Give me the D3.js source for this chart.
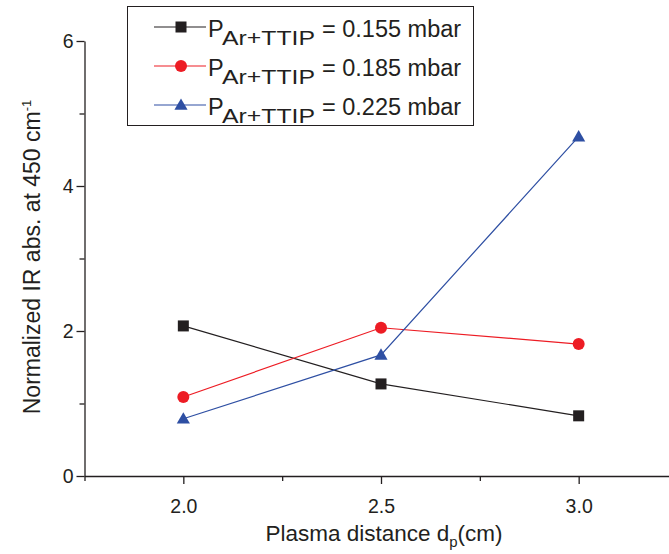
<!DOCTYPE html>
<html><head><meta charset="utf-8">
<script src="https://cdn.jsdelivr.net/npm/d3@7/dist/d3.min.js"></script>
<style>body{margin:0;background:#fff}svg{display:block;font-family:"Liberation Sans",Arial,sans-serif}</style>
</head><body><svg id="c" width="669" height="554"></svg>
<script>
const distances = [2.0, 2.5, 3.0];
const series155 = [2.07, 1.27, 0.83];
const series185 = [1.09, 2.045, 1.82];
const series225 = [0.79, 1.67, 4.68];
const seriesLabels = ["0.155", "0.185", "0.225"];
const xTicks = [2.0, 2.5, 3.0];
const yTicks = [0, 2, 4, 6];

const seriesList = [
  {values: series155, color: "#231f20", shape: "square", label: seriesLabels[0]},
  {values: series185, color: "#ed1c24", shape: "circle", label: seriesLabels[1]},
  {values: series225, color: "#2e4fa3", shape: "triangle", label: seriesLabels[2]}
];

const svg = d3.select("#c");
const x = d3.scaleLinear().domain([1.75, 3.25]).range([84.5, 677.5]);
const y = d3.scaleLinear().domain([0, 6]).range([476, 41]);
const axisCol = "#231f20";

// x axis
const gx = svg.append("g").attr("transform", "translate(0,476)");
gx.call(d3.axisBottom(x).tickValues(xTicks).tickFormat(d3.format(".1f")).tickSize(8).tickSizeOuter(0));
gx.append("g").call(d3.axisBottom(x).tickValues([1.75, 2.25, 2.75, 3.25]).tickFormat("").tickSize(5).tickSizeOuter(0))
  .select(".domain").remove();
gx.selectAll("text").attr("font-size", 19.5).attr("fill", axisCol).attr("dy", "1.35em").attr("font-family", "Liberation Sans, Arial, sans-serif");

// y axis
const gy = svg.append("g").attr("transform", "translate(84.5,0)");
gy.call(d3.axisLeft(y).tickValues(yTicks).tickFormat(d3.format("d")).tickSize(8).tickSizeOuter(0));
gy.append("g").call(d3.axisLeft(y).tickValues([1, 3, 5]).tickFormat("").tickSize(5).tickSizeOuter(0))
  .select(".domain").remove();
gy.selectAll("text").attr("font-size", 19.5).attr("fill", axisCol).attr("x", -11).attr("font-family", "Liberation Sans, Arial, sans-serif");
svg.selectAll(".domain, .tick line").attr("stroke", axisCol).attr("stroke-width", 1.3);

// titles
const xt = svg.append("text").attr("x", 384).attr("y", 541).attr("text-anchor", "middle")
  .attr("font-size", 22.5).attr("fill", axisCol);
xt.append("tspan").text("Plasma distance d");
xt.append("tspan").attr("font-size", 15).attr("dy", 6).text("p");
xt.append("tspan").attr("dy", -6).text("(cm)");

const yt = svg.append("text").attr("transform", "translate(40,257) rotate(-90)").attr("text-anchor", "middle")
  .attr("font-size", 23).attr("fill", axisCol);
yt.append("tspan").text("Normalized IR abs. at 450 cm");
yt.append("tspan").attr("font-size", 13).attr("dy", -9).text("-1");

function marker(g, shape, color, cx, cy) {
  if (shape === "square") g.append("rect").attr("x", cx - 5.5).attr("y", cy - 5.5).attr("width", 11).attr("height", 11).attr("fill", color);
  else if (shape === "circle") g.append("circle").attr("cx", cx).attr("cy", cy).attr("r", 6).attr("fill", color);
  else g.append("path").attr("d", d3.symbol().type(d3.symbolTriangle).size(75)()).attr("transform", `translate(${cx},${cy+1})`).attr("fill", color);
}

const line = d3.line().x((d, i) => x(distances[i])).y(d => y(d));
seriesList.forEach(s => {
  const g = svg.append("g");
  g.append("path").attr("d", line(s.values)).attr("fill", "none").attr("stroke", s.color).attr("stroke-width", 1.2);
  s.values.forEach((v, i) => marker(g, s.shape, s.color, x(distances[i]), y(v)));
});

// legend
const lg = svg.append("g");
lg.append("rect").attr("x", 127.5).attr("y", 6.5).attr("width", 346).attr("height", 119).attr("fill", "#fff").attr("stroke", "#231f20").attr("stroke-width", 1);
const rowY = [27, 66, 105];
seriesList.forEach((s, i) => {
  const yy = rowY[i];
  lg.append("line").attr("x1", 154).attr("x2", 206).attr("y1", yy).attr("y2", yy).attr("stroke", s.color).attr("stroke-width", 1.2);
  marker(lg, s.shape, s.color, 181, yy);
  const t = lg.append("text").attr("x", 208).attr("y", yy + 10).attr("font-size", 23.5).attr("fill", axisCol);
  t.append("tspan").text("P");
  t.append("tspan").attr("x", 222).attr("font-size", 21).attr("dy", 8).attr("textLength", 93).attr("lengthAdjust", "spacingAndGlyphs").text("Ar+TTIP");
  t.append("tspan").attr("x", 322).attr("dy", -8).text("= " + s.label + " mbar");
});
</script></body></html>
